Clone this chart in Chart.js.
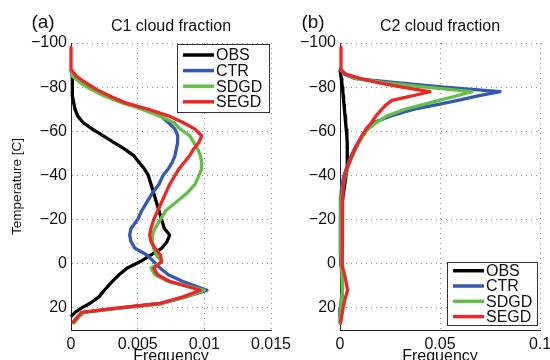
<!DOCTYPE html>
<html>
<head>
<meta charset="utf-8">
<script src="https://cdn.jsdelivr.net/npm/chart.js@4.4.0/dist/chart.umd.min.js"></script>
<style>
  html, body { margin: 0; padding: 0; background: #fff; overflow: hidden; width: 550px; height: 360px; }
  .panel { position: absolute; top: 0; }
  .panel-1 { left: 0; }
  .panel-2 { left: 275px; }
</style>
</head>
<body>
<canvas class="panel panel-1" width="310" height="360"></canvas>
<canvas class="panel panel-2" width="285" height="360"></canvas>
<script>
const seriesNames = ["OBS", "CTR", "SDGD", "SEGD"];
const seriesColors = ["#000000", "#3558b0", "#62c046", "#ee2626"];

const tempTicks = [-100, -80, -60, -40, -20, 0, 20];
const freqTicksC1 = [0, 0.005, 0.01, 0.015];
const freqTicksC2 = [0, 0.05, 0.1];

// C1 cloud fraction
const tempC1 = [-98, -93, -88, -85, -82, -79, -76, -73, -70, -67, -64, -61, -58, -55, -52, -49, -46, -43, -40, -36,
  -32, -28, -24, -20, -16, -13, -10, -7, -4, -1, 2, 5, 8, 12, 15, 18, 20, 22, 24, 27];
const obsC1 = [null, null, 0, 0.0001, 0.0001, 0.0001, 0.0001, 0.0002, 0.0003, 0.0005, 0.0009, 0.0016, 0.0024, 0.0032, 0.0040, 0.0047, 0.0051, 0.0055, 0.0058, 0.0060,
  0.0062, 0.0064, 0.0066, 0.0068, 0.0070, 0.0074, 0.0072, 0.0068, 0.0060, 0.0052, 0.0042, 0.0036, 0.0031, 0.0025, 0.0021, 0.0014, 0.0008, 0.0003, 0, null];
const ctrC1 = [null, null, 0, 0.0003, 0.0009, 0.0018, 0.0028, 0.0040, 0.0056, 0.0067, 0.0073, 0.0078, 0.0080, 0.0080, 0.0079, 0.0078, 0.0076, 0.0073, 0.0069, 0.0066,
  0.0061, 0.0057, 0.0053, 0.0050, 0.0045, 0.0044, 0.0045, 0.0048, 0.0057, 0.0062, 0.0067, 0.0073, 0.0084, 0.0102, 0.0086, 0.0068, 0.0037, 0.0009, 0.0005, 0.0001];
const sdgdC1 = [null, null, 0, 0.0001, 0.0007, 0.0015, 0.0025, 0.0038, 0.0053, 0.0066, 0.0077, 0.0082, 0.0089, 0.0092, 0.0095, 0.0097, 0.0098, 0.0098, 0.0096, 0.0093,
  0.0087, 0.0079, 0.0071, 0.0067, 0.0063, 0.0061, 0.0061, 0.0062, 0.0064, 0.0068, 0.0060, 0.0063, 0.0073, 0.0100, 0.0086, 0.0068, 0.0038, 0.0010, 0.0006, 0.0002];
const segdC1 = [0, 0, 0, 0.0004, 0.0011, 0.0019, 0.0029, 0.0040, 0.0058, 0.0073, 0.0084, 0.0093, 0.0098, 0.0096, 0.0092, 0.0089, 0.0085, 0.0081, 0.0078, 0.0074,
  0.0071, 0.0068, 0.0065, 0.0062, 0.0060, 0.0059, 0.0060, 0.0063, 0.0067, 0.0068, 0.0062, 0.0065, 0.0074, 0.0097, 0.0084, 0.0066, 0.0036, 0.0008, 0.0005, 0.0001];

// C2 cloud fraction
const tempC2 = [-98, -93, -88, -86, -84, -82, -80, -78, -76, -74, -72, -70, -67, -64, -61, -58, -55, -52, -48, -44,
  -40, -35, -30, -25, -20, -15, -10, -5, -2, 1, 4, 8, 12, 16, 20, 24, 27];
const obsC2 = [null, null, 0, 0.0003, 0.0006, 0.0009, 0.0012, 0.0014, 0.0016, 0.0018, 0.0020, 0.0022, 0.0025, 0.0028, 0.0031, 0.0034, 0.0036, 0.0037, 0.0037, 0.0035,
  0.0030, 0.0022, 0.0014, 0.0008, 0.0004, 0.0002, 0.0002, 0.0003, 0.0004, 0.0006, 0.0009, 0.0012, 0.0012, 0.0008, 0.0004, 0.0001, null];
const ctrC2 = [null, null, 0, 0.002, 0.007, 0.028, 0.052, 0.080, 0.069, 0.059, 0.048, 0.037, 0.0255, 0.017, 0.0137, 0.011, 0.009, 0.0072, 0.0052, 0.0035,
  0.002, 0.0008, 0.0004, 0.0002, 0.0002, 0.0002, 0.0002, 0.0003, 0.0005, 0.0008, 0.001, 0.0012, 0.0012, 0.0008, 0.0004, 0.0002, 0];
const sdgdC2 = [null, null, 0, 0.003, 0.0075, 0.022, 0.043, 0.066, 0.058, 0.0495, 0.041, 0.0325, 0.0235, 0.0182, 0.014, 0.0115, 0.0095, 0.0078, 0.0058, 0.004,
  0.0027, 0.0015, 0.0009, 0.0005, 0.0004, 0.0004, 0.0004, 0.0005, 0.0006, 0.0008, 0.001, 0.0012, 0.0013, 0.0009, 0.0005, 0.0002, 0];
const segdC2 = [0.0005, 0.0005, 0.0005, 0.0025, 0.010, 0.019, 0.031, 0.045, 0.036, 0.026, 0.023, 0.021, 0.018, 0.0158, 0.013, 0.011, 0.0092, 0.0075, 0.0055, 0.0038,
  0.0024, 0.0016, 0.0013, 0.0012, 0.0012, 0.0012, 0.0011, 0.001, 0.001, 0.0012, 0.002, 0.003, 0.0038, 0.0025, 0.0015, 0.0008, 0.0003];

const fontFamily = '"Liberation Sans", Arial, Helvetica, sans-serif';

const panelDecor = {
  id: 'panelDecor',
  afterDraw(chart, args, opts) {
    const { ctx, chartArea } = chart;
    ctx.save();
    ctx.fillStyle = '#111';
    ctx.textBaseline = 'middle';
    ctx.textAlign = 'center';
    ctx.font = '19px ' + fontFamily;
    ctx.fillText(opts.letter, opts.letterX, 23);
    ctx.font = '16px ' + fontFamily;
    ctx.fillText(opts.title, (chartArea.left + chartArea.right) / 2, 27);

    // legend box inside the axes
    const lg = opts.legend;
    ctx.fillStyle = '#fff';
    ctx.fillRect(lg.x, lg.y, lg.w, lg.h);
    ctx.strokeStyle = '#333';
    ctx.lineWidth = 1;
    ctx.strokeRect(lg.x + 0.5, lg.y + 0.5, lg.w, lg.h);
    ctx.textAlign = 'left';
    chart.data.datasets.forEach((ds, i) => {
      const y = lg.y + lg.first + i * lg.step;
      ctx.strokeStyle = ds.borderColor;
      ctx.lineWidth = 3.5;
      ctx.beginPath();
      ctx.moveTo(lg.x + 6, y);
      ctx.lineTo(lg.x + 37, y);
      ctx.stroke();
      ctx.fillStyle = '#111';
      ctx.fillText(ds.label, lg.x + 39, y + 1);
    });
    ctx.restore();
  }
};

function toPoints(temps, values) {
  return temps.map((t, i) => ({ x: values[i], y: t }));
}

function fmtTick(v) {
  return v < 0 ? '\u2212' + (-v) : String(v);
}

function makeProfileChart(canvas, cfg) {
  const datasets = cfg.series.map((vals, i) => ({
    label: seriesNames[i],
    data: toPoints(cfg.temps, vals),
    borderColor: seriesColors[i],
    backgroundColor: seriesColors[i],
    borderWidth: 3.3,
    borderJoinStyle: 'round',
    pointRadius: 0,
    showLine: true,
    tension: 0,
    clip: false,
    order: seriesNames.length - 1 - i
  }));
  new Chart(canvas, {
    type: 'scatter',
    data: { datasets },
    options: {
      responsive: false,
      animation: false,
      layout: { padding: { top: 43, right: cfg.padRight, left: 0, bottom: 0 } },
      plugins: {
        legend: { display: false },
        tooltip: { enabled: false },
        panelDecor: { letter: cfg.letter, letterX: cfg.letterX, title: cfg.title, legend: cfg.legend }
      },
      scales: {
        x: {
          type: 'linear',
          min: 0,
          max: cfg.xMax,
          afterBuildTicks: (scale) => { scale.ticks = cfg.xTicks.map(v => ({ value: v })); },
          afterFit: (scale) => { scale.height = 30; },
          ticks: { color: '#111', padding: 5, maxRotation: 0, font: { family: fontFamily, size: 16 }, callback: fmtTick },
          grid: { color: '#8f8f8f', drawTicks: false },
          border: { color: '#222', width: 1, dash: [1, 4] },
          title: { display: true, text: 'Frequency', color: '#111', font: { family: fontFamily, size: 16 }, padding: { top: 0, bottom: -6 } }
        },
        y: {
          type: 'linear',
          min: -100,
          max: 30,
          reverse: true,
          afterBuildTicks: (scale) => { scale.ticks = tempTicks.map(v => ({ value: v })); },
          afterFit: (scale) => { scale.width = cfg.yWidth; },
          ticks: { color: '#111', padding: 4, font: { family: fontFamily, size: 16 }, callback: fmtTick },
          grid: { color: '#8f8f8f', drawTicks: false },
          border: { color: '#222', width: 1, dash: [1, 4] },
          title: { display: cfg.yTitle, text: 'Temperature [C]', color: '#111', font: { family: fontFamily, size: 13.5 }, padding: { top: 9, bottom: 0 } }
        }
      }
    },
    plugins: [panelDecor]
  });
}

makeProfileChart(document.querySelector('.panel-1'), {
  temps: tempC1,
  series: [obsC1, ctrC1, sdgdC1, segdC1],
  xMax: 0.015,
  xTicks: freqTicksC1,
  yWidth: 71,
  yTitle: true,
  padRight: 39,
  letter: '(a)',
  letterX: 43,
  title: 'C1 cloud fraction',
  legend: { x: 177, y: 44, w: 92, h: 68, first: 11, step: 15.6 }
});

makeProfileChart(document.querySelector('.panel-2'), {
  temps: tempC2,
  series: [obsC2, ctrC2, sdgdC2, segdC2],
  xMax: 0.1,
  xTicks: freqTicksC2,
  yWidth: 65,
  yTitle: false,
  padRight: 20,
  letter: '(b)',
  letterX: 38,
  title: 'C2 cloud fraction',
  legend: { x: 172, y: 262, w: 90, h: 63, first: 8.7, step: 15.3 }
});
</script>
</body>
</html>
